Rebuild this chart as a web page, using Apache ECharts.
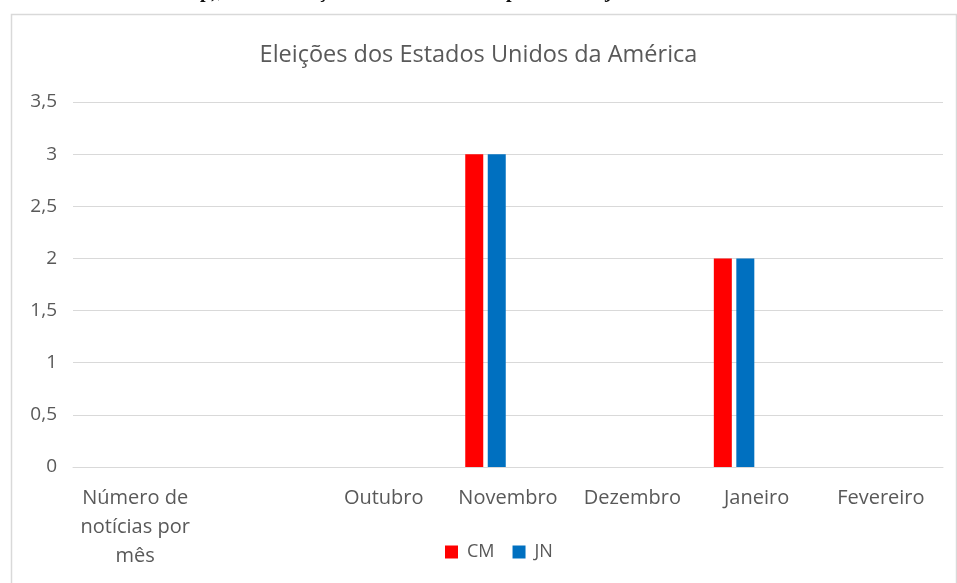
<!DOCTYPE html>
<html>
<head>
<meta charset="utf-8">
<script src="https://cdn.jsdelivr.net/npm/echarts@6/dist/echarts.min.js"></script>
<style>
html,body{margin:0;padding:0;background:#fff;}
#chart{width:957px;height:583px;}
</style>
</head>
<body>
<div id="chart"></div>
<script>
var titleText = 'Eleições dos Estados Unidos da América';
var categories = ['Número de\nnotícias por\nmês', '', 'Outubro', 'Novembro', 'Dezembro', 'Janeiro', 'Fevereiro'];
var cmValues = [null, null, 0, 3, 0, 2, 0];
var jnValues = [null, null, 0, 3, 0, 2, 0];
var emptyA = [null, null, null, null, null, null, null];
var emptyB = [null, null, null, null, null, null, null];
var seriesNames = ['CM', 'JN'];
var yMin = 0, yMax = 3.5, yStep = 0.5;

var chart = echarts.init(document.getElementById('chart'), null, {renderer: 'canvas'});
var font = '"Open Sans", Lato, sans-serif';
var txt = '#595959';

chart.setOption({
  backgroundColor: '#ffffff',
  animation: false,
  title: {
    text: titleText,
    left: 'center',
    top: 38,
    textStyle: {fontFamily: font, fontSize: 23.5, fontWeight: 'normal', color: txt}
  },
  legend: {
    data: seriesNames,
    left: 440,
    top: 538,
    itemWidth: 13,
    itemHeight: 13,
    itemGap: 18,
    icon: 'rect',
    textStyle: {fontFamily: font, fontSize: 18, color: txt, padding: [0, 0, 0, 4]}
  },
  grid: {left: 73, right: 14, top: 102, bottom: 116, containLabel: false},
  xAxis: {
    type: 'category',
    data: categories,
    axisLine: {show: true, lineStyle: {color: '#d9d9d9', width: 1}},
    axisTick: {show: false},
    axisLabel: {fontFamily: font, fontSize: 20, color: txt, margin: 17, lineHeight: 29, interval: 0}
  },
  yAxis: {
    type: 'value',
    min: yMin,
    max: yMax,
    interval: yStep,
    axisLine: {show: false},
    axisTick: {show: false},
    splitLine: {lineStyle: {color: '#d9d9d9', width: 1}},
    axisLabel: {
      fontFamily: font, fontSize: 19, color: txt, margin: 16,
      formatter: function (v) { return String(v).replace('.', ','); }
    }
  },
  series: [
    {name: 'CM', type: 'bar', data: cmValues, barWidth: 18, barGap: '25%', itemStyle: {color: '#ff0000'}},
    {name: 'JN', type: 'bar', data: jnValues, barWidth: 18, barGap: '25%', itemStyle: {color: '#0070c0'}},
    {name: 'S3', type: 'bar', data: emptyA, barWidth: 18, barGap: '25%'},
    {name: 'S4', type: 'bar', data: emptyB, barWidth: 18, barGap: '25%'}
  ],
  graphic: [
    {type: 'rect', left: 9, top: 12, shape: {x: 0, y: 0, width: 945, height: 590},
     style: {fill: 'none', stroke: '#d9d9d9', lineWidth: 1.5}, z: -1, silent: true},
    {type: 'text', left: 200, top: -18, style: {text: 'p),', font: 'bold 20px "Liberation Serif", serif', fill: '#111'}},
    {type: 'text', left: 318, top: -18, style: {text: 'ç', font: 'bold 20px "Liberation Serif", serif', fill: '#111'}},
    {type: 'text', left: 506, top: -18, style: {text: 'p', font: 'bold 20px "Liberation Serif", serif', fill: '#111'}},
    {type: 'text', left: 605, top: -18, style: {text: 'j', font: 'bold 20px "Liberation Serif", serif', fill: '#111'}}
  ]
});
</script>
</body>
</html>
